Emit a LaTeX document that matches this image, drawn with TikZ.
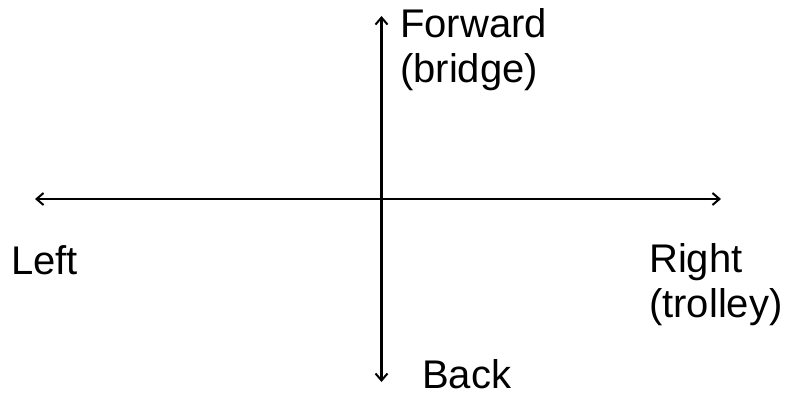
\documentclass[tikz,border=0pt]{standalone}
\usepackage{fontspec}
\setmainfont{Liberation Sans}
\usetikzlibrary{arrows.meta}
\begin{document}
\begin{tikzpicture}[x=1bp,y=-1bp,
  tip/.tip={Straight Barb[length=7bp,width=12bp,line width=2bp]},
  axis/.style={line width=2.2bp,tip-tip},
  lbl/.style={inner sep=0pt,anchor=base west,align=left,font=\fontsize{40bp}{45bp}\selectfont}]
\useasboundingbox (0,0) rectangle (788,398);
\coordinate (top) at (381.5,16);
\coordinate (bottom) at (381.5,382);
\coordinate (leftend) at (35,199);
\coordinate (rightend) at (721,199);
\draw[axis] (leftend) -- (rightend);
\draw[axis] (top) -- (bottom);
\node[lbl] (fwd) at (400,82) {Forward\\(bridge)};
\node[lbl] (lft) at (11,274) {Left};
\node[lbl] (rgt) at (649,317) {Right\\(trolley)};
\node[lbl] (bck) at (422,388) {Back};
\end{tikzpicture}
\end{document}
